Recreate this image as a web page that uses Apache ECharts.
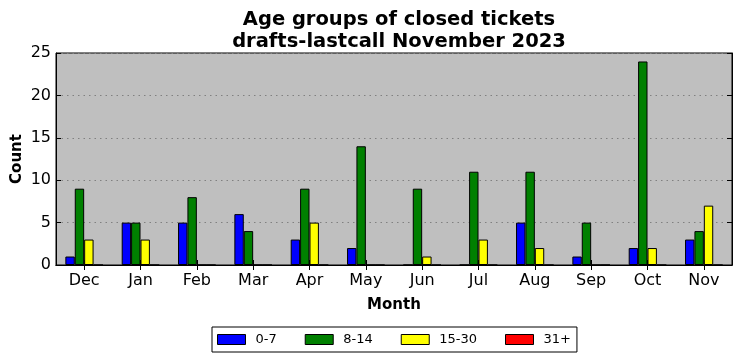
<!DOCTYPE html>
<html><head><meta charset="utf-8">
<script src="https://cdn.jsdelivr.net/npm/echarts@6/dist/echarts.min.js"></script>
<style>html,body{margin:0;padding:0;background:#fff}#c{width:742px;height:361px}</style>
</head><body><div id="c"></div>
<script>
const months = ['Dec','Jan','Feb','Mar','Apr','May','Jun','Jul','Aug','Sep','Oct','Nov'];
const g0_7   = [1,5,5,6,3,2,0,0,5,1,2,3];
const g8_14  = [9,5,8,4,9,14,9,11,11,5,24,4];
const g15_30 = [3,3,0,0,5,0,1,3,2,0,2,7];
const g31    = [0,0,0,0,0,0,0,0,0,0,0,0];
const seriesNames = ['0-7','8-14','15-30','31+'];
const seriesColors = ['#0000ff','#008000','#ffff00','#ff0000'];
const seriesData = [g0_7, g8_14, g15_30, g31];

const font = 'DejaVu Sans';
const chart = echarts.init(document.getElementById('c'), null, {renderer:'canvas'});
const tick = {show:true, inside:true, length:5, lineStyle:{color:'#000', width:1}};
chart.setOption({
  animation:false,
  backgroundColor:'#fff',
  title:{
    text:'Age groups of closed tickets\ndrafts-lastcall November 2023',
    left:394, top:4, textAlign:'center',
    textStyle:{fontFamily:font, fontWeight:'bold', fontSize:19.5, color:'#000', lineHeight:22}
  },
  legend:{
    data:seriesNames, bottom:9, left:212,
    backgroundColor:'#fff', borderColor:'#000', borderWidth:1, borderRadius:0,
    padding:[6,6,6,5], itemWidth:28, itemHeight:10, itemGap:28,
    icon:'rect',
    itemStyle:{borderColor:'#000', borderWidth:1},
    textStyle:{fontFamily:font, fontSize:13, color:'#000', padding:[0,0,0,5]}
  },
  grid:{left:56, right:10, top:53, bottom:96, outerBoundsMode:'none', containLabel:false, show:true, backgroundColor:'#bfbfbf', borderColor:'#000', borderWidth:1},
  xAxis:[{
    type:'category', data:months, position:'bottom',
    name:'Month', nameLocation:'middle', nameGap:33,
    nameTextStyle:{fontFamily:font, fontWeight:'bold', fontSize:15, color:'#000'},
    axisLine:{show:true, lineStyle:{color:'#000'}},
    axisTick:Object.assign({alignWithLabel:true}, tick),
    axisLabel:{fontFamily:font, fontSize:16, color:'#000', margin:8},
    splitLine:{show:false}
  },{
    type:'category', data:months, position:'top',
    axisLine:{show:true, lineStyle:{color:'#000'}},
    axisTick:Object.assign({alignWithLabel:true}, tick),
    axisLabel:{show:false}, splitLine:{show:false}
  }],
  yAxis:[{
    type:'value', min:0, max:25, interval:5, position:'left',
    name:'Count', nameLocation:'middle', nameGap:31, nameRotate:90, nameMoveOverlap:false,
    nameTextStyle:{fontFamily:font, fontWeight:'bold', fontSize:15, color:'#000'},
    axisLine:{show:true, lineStyle:{color:'#000'}},
    axisTick:tick,
    axisLabel:{fontFamily:font, fontSize:16, color:'#000', margin:5},
    splitLine:{show:true, lineStyle:{color:'#808080', type:[1.5,4], width:1}}
  },{
    type:'value', min:0, max:25, interval:5, position:'right',
    axisLine:{show:true, lineStyle:{color:'#000'}},
    axisTick:tick, axisLabel:{show:false}, splitLine:{show:false}
  }],
  series: seriesNames.map((n,i)=>({
    name:n, type:'bar', data:seriesData[i], xAxisIndex:0, yAxisIndex:0,
    barWidth:9.4, barGap:'0%',
    itemStyle:{color:seriesColors[i], borderColor:'#000', borderWidth:1}
  }))
});
</script></body></html>
